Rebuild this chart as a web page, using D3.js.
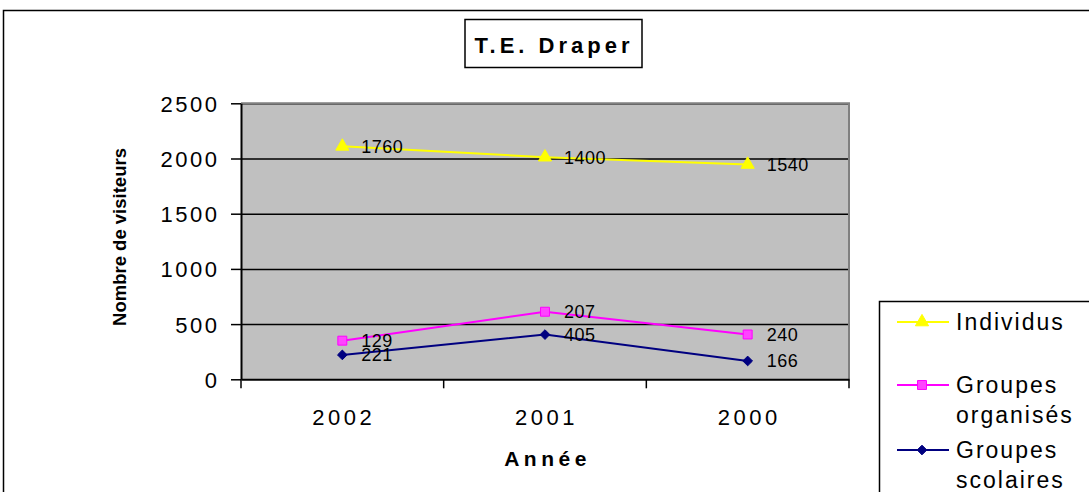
<!DOCTYPE html>
<head>
    <meta charset="utf-8">
    <style>
        body { margin: 0; background: #fff; }
        text { font-family: "Liberation Sans", Arial, sans-serif; fill: #000; }
    </style>
</head>
<body>
    <script src="https://d3js.org/d3.v7.min.js"></script>
    <script>

        // data (stacked line chart, labels show own values)
        var years = ["2002", "2001", "2000"];
        var scolaires = [221, 405, 166];
        var organises = [129, 207, 240];
        var individus = [1760, 1400, 1540];
        var yTicks = [0, 500, 1000, 1500, 2000, 2500];

        var W = 1089, H = 492;
        // plot area
        var plot = {left: 241, right: 849, top: 103.3, bottom: 379.3};

        var svg = d3.select("body")
            .append("svg")
            .attr("width", W)
            .attr("height", H);

        // outer chart border
        svg.append("rect")
            .attr("x", 3.5).attr("y", 10.5)
            .attr("width", W + 10).attr("height", H + 10)
            .attr("fill", "#fff")
            .attr("stroke", "#000")
            .attr("stroke-width", 1.5);

        // scales
        var x = d3.scalePoint().domain(years).range([plot.left, plot.right]).padding(0.5);
        var xBand = d3.scaleBand().domain(years).range([plot.left, plot.right]);
        var y = d3.scaleLinear().domain([0, 2500]).range([plot.bottom, plot.top]);

        // stacked values: scolaires at the bottom
        var rows = years.map(function(yr, i) {
            return {year: yr, scol: scolaires[i], org: organises[i], ind: individus[i]};
        });
        var stacked = d3.stack().keys(["scol", "org", "ind"])(rows);

        // plot background
        svg.append("rect")
            .attr("x", plot.left).attr("y", plot.top)
            .attr("width", plot.right - plot.left)
            .attr("height", plot.bottom - plot.top)
            .attr("fill", "#c0c0c0");

        // gridlines
        svg.append("g")
            .attr("transform", "translate(" + plot.left + ",0)")
            .call(d3.axisLeft(y).tickValues(yTicks.slice(1)).tickSize(-(plot.right - plot.left)).tickFormat(""))
            .call(function(g) { g.select(".domain").remove(); })
            .selectAll("line")
            .attr("stroke", "#000")
            .attr("stroke-width", 1.5);

        // gray border top/right
        svg.append("path")
            .attr("d", "M" + plot.left + "," + plot.top + "H" + plot.right + "V" + plot.bottom)
            .attr("fill", "none")
            .attr("stroke", "#808080")
            .attr("stroke-width", 2);

        // Y axis
        var yAxis = svg.append("g")
            .attr("transform", "translate(" + plot.left + ",0)")
            .call(d3.axisLeft(y).tickValues(yTicks).tickFormat(d3.format("d"))
                .tickSize(10).tickPadding(14).tickSizeOuter(0));
        yAxis.select(".domain").attr("stroke", "#000").attr("stroke-width", 2);
        yAxis.selectAll("line").attr("stroke", "#000").attr("stroke-width", 1.5);
        yAxis.selectAll("text")
            .style("font-size", "22px")
            .style("letter-spacing", "2.5px")
            .attr("dy", "0.36em")
            .attr("dx", "2.5px")
            .attr("fill", "#000");

        // X axis (ticks on category boundaries)
        var xAxis = svg.append("g")
            .attr("transform", "translate(0," + plot.bottom + ")")
            .call(d3.axisBottom(xBand).tickValues([]).tickSizeOuter(0));
        xAxis.select(".domain").attr("stroke", "#000").attr("stroke-width", 2);
        var bounds = years.map(function(d) { return xBand(d); }).concat([plot.right]);
        xAxis.selectAll(".bound")
            .data(bounds)
            .enter().append("line")
            .attr("x1", function(d) { return d; })
            .attr("x2", function(d) { return d; })
            .attr("y1", 0).attr("y2", 9)
            .attr("stroke", "#000")
            .attr("stroke-width", 1.5);
        xAxis.selectAll(".cat")
            .data(years)
            .enter().append("text")
            .attr("x", function(d) { return x(d) + 1.5; })
            .attr("y", 38)
            .attr("dy", "0.36em")
            .attr("text-anchor", "middle")
            .style("font-size", "22px")
            .style("letter-spacing", "3.5px")
            .text(function(d) { return d; });

        // axis titles
        svg.append("text")
            .attr("x", (plot.left + plot.right) / 2 + 2.5)
            .attr("y", 458)
            .attr("dy", "0.36em")
            .attr("text-anchor", "middle")
            .style("font-size", "21px")
            .style("font-weight", "bold")
            .style("letter-spacing", "4.5px")
            .text("Année");

        svg.append("text")
            .attr("transform", "translate(126,237) rotate(-90)")
            .attr("text-anchor", "middle")
            .style("font-size", "18.5px")
            .style("font-weight", "bold")
            .text("Nombre de visiteurs");

        // title box
        svg.append("rect")
            .attr("x", 465).attr("y", 19.5)
            .attr("width", 177).attr("height", 48)
            .attr("fill", "#fff")
            .attr("stroke", "#000")
            .attr("stroke-width", 1.5);
        svg.append("text")
            .attr("x", 554).attr("y", 45)
            .attr("dy", "0.36em")
            .attr("text-anchor", "middle")
            .style("font-size", "22px")
            .style("font-weight", "bold")
            .style("letter-spacing", "4px")
            .text("T.E. Draper");

        // series styles
        var styles = {
            scol: {color: "#000080", symbol: d3.symbolDiamond2, size: 60, fill: "#000080", label: scolaires},
            org:  {color: "#ff00ff", symbol: d3.symbolSquare, size: 80, fill: "#ff44ff", label: organises},
            ind:  {color: "#ffff00", symbol: d3.symbolTriangle, size: 75, fill: "#ffff00", label: individus}
        };

        var line = d3.line()
            .x(function(d) { return x(d.data.year); })
            .y(function(d) { return y(d[1]); });

        stacked.forEach(function(s) {
            var st = styles[s.key];
            svg.append("path")
                .datum(s)
                .attr("d", line)
                .attr("fill", "none")
                .attr("stroke", st.color)
                .attr("stroke-width", 2);

            svg.selectAll(".m-" + s.key)
                .data(s)
                .enter().append("path")
                .attr("d", d3.symbol().type(st.symbol).size(st.size))
                .attr("transform", function(d) { return "translate(" + x(d.data.year) + "," + y(d[1]) + ")"; })
                .attr("fill", st.fill)
                .attr("stroke", st.color)
                .attr("stroke-width", 1);

            svg.selectAll(".l-" + s.key)
                .data(s)
                .enter().append("text")
                .attr("x", function(d) { return x(d.data.year) + 19; })
                .attr("y", function(d) { return y(d[1]); })
                .attr("dy", "0.36em")
                .style("font-size", "18px")
                .style("letter-spacing", "0.5px")
                .text(function(d, i) { return st.label[i]; });
        });

        // legend
        var legend = svg.append("g");
        legend.append("rect")
            .attr("x", 879.5).attr("y", 301.5)
            .attr("width", 250).attr("height", 250)
            .attr("fill", "#fff")
            .attr("stroke", "#000")
            .attr("stroke-width", 1.5);

        var legendItems = [
            {key: "ind", y: 322, lines: ["Individus"]},
            {key: "org", y: 385, lines: ["Groupes", "organisés"]},
            {key: "scol", y: 450, lines: ["Groupes", "scolaires"]}
        ];
        legendItems.forEach(function(it) {
            var st = styles[it.key];
            legend.append("line")
                .attr("x1", 897).attr("x2", 949)
                .attr("y1", it.y).attr("y2", it.y)
                .attr("stroke", st.color)
                .attr("stroke-width", 2);
            legend.append("path")
                .attr("d", d3.symbol().type(st.symbol).size(st.size))
                .attr("transform", "translate(922," + it.y + ")")
                .attr("fill", st.fill)
                .attr("stroke", st.color);
            var t = legend.append("text")
                .attr("x", 956)
                .attr("y", it.y)
                .style("font-size", "23px")
                .style("letter-spacing", "2px");
            it.lines.forEach(function(l, j) {
                t.append("tspan")
                    .attr("x", 956)
                    .attr("dy", j === 0 ? "0.36em" : "30px")
                    .text(l);
            });
        });

    </script>
</body>
